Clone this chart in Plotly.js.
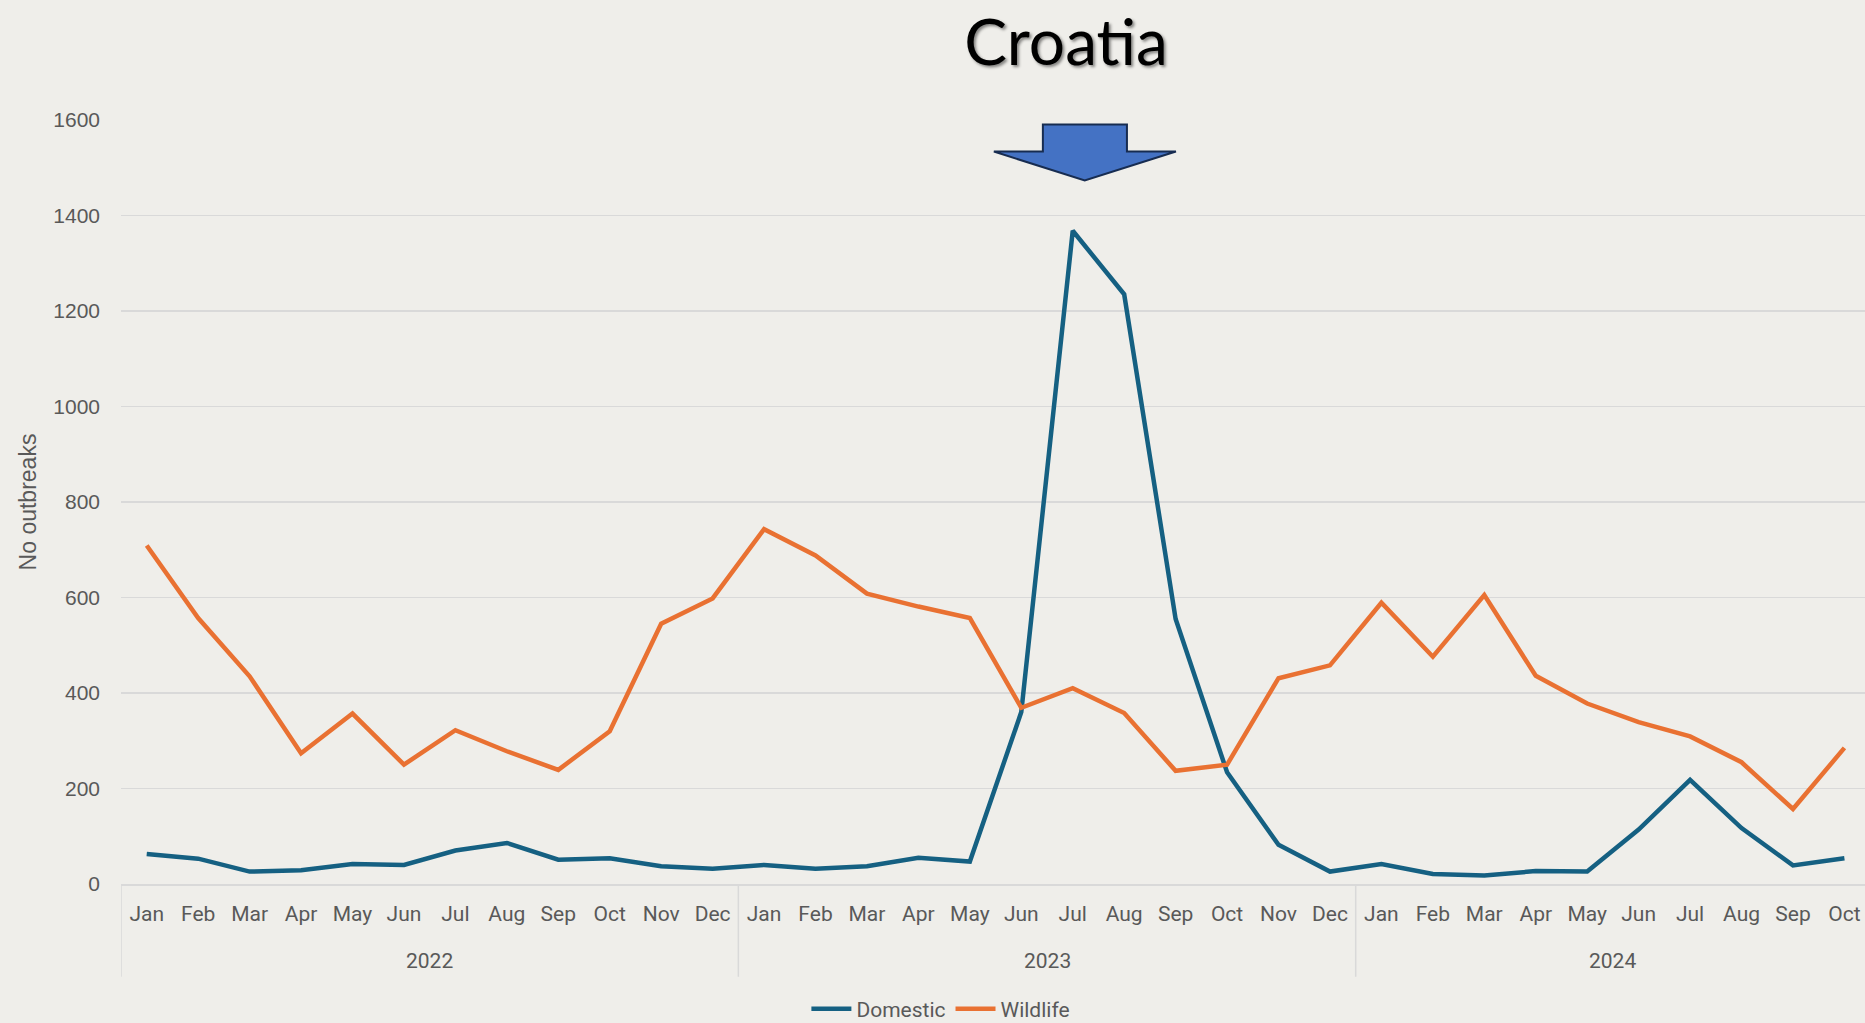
<!DOCTYPE html>
<html>
<head>
<meta charset="utf-8">
<script src="https://cdn.plot.ly/plotly-3.0.1.min.js"></script>
<style>
html,body{margin:0;padding:0;background:#EFEEEA;}
#chart{width:1865px;height:1023px;}
</style>
</head>
<body>
<div id="chart"></div>
<script>
const years = ["2022","2023","2024"];
const months = ["Jan","Feb","Mar","Apr","May","Jun","Jul","Aug","Sep","Oct","Nov","Dec"];
const monthsPerYear = [12, 12, 10];
const domestic = [63,53,26,29,42,40,70,86,51,54,37,32,
                  40,32,37,55,47,360,1368,1235,555,234,82,26,
                  42,21,18,27,26,114,218,117,39,54];
const wildlife = [709,557,435,274,357,250,322,278,239,320,545,598,
                  743,688,608,581,557,369,410,358,237,250,431,458,
                  589,476,605,436,378,339,309,255,157,285];
const yTicks = [0,200,400,600,800,1000,1200,1400,1600];

// month index positions and labels
const xIdx = [], xMonth = [];
const yearCenters = [], dividers = [];
let k = 0;
years.forEach((y,i)=>{
  dividers.push(k - 0.5);
  yearCenters.push(k + (monthsPerYear[i]-1)/2);
  for(let m=0;m<monthsPerYear[i];m++){ xIdx.push(k); xMonth.push(months[m]); k++; }
});

const gray = "#595959";
const narrow = "Roboto, Liberation Sans, sans-serif";
const sans = "Liberation Sans, Arial, sans-serif";

const traces = [
  {x:xIdx, y:domestic, name:"Domestic", type:"scatter", mode:"lines",
   line:{color:"#156082", width:4.5}},
  {x:xIdx, y:wildlife, name:"Wildlife", type:"scatter", mode:"lines",
   line:{color:"#E97132", width:4.5}}
];

const annotations = years.map((y,i)=>({
  text:y, x:yearCenters[i], xref:"x", y:-0.1004, yref:"paper",
  xanchor:"center", yanchor:"middle", showarrow:false,
  font:{family:narrow, size:21, color:gray}
}));

const shapes = dividers.map(d=>({
  type:"line", xref:"x", yref:"paper", x0:d, x1:d, y0:0, y1:-0.1214,
  line:{color:"#D9D9D9", width:1.5}
}));
shapes.push({type:"path", xref:"paper", yref:"paper",
  path:"M 0.5286 0.9941 L 0.5768 0.9941 L 0.5768 0.9587 L 0.6049 0.9587 L 0.5526 0.9208 L 0.5005 0.9587 L 0.5286 0.9587 Z",
  fillcolor:"#4472C4", line:{color:"#172C51", width:2}});

const layout = {
  width:1865, height:1023,
  paper_bgcolor:"#EFEEEA", plot_bgcolor:"#EFEEEA",
  margin:{l:121, r:0, t:120, b:139},
  showlegend:true,
  title:{text:"Croatia", x:0.5716, xref:"container", xanchor:"center",
         y:0.958, yref:"container", yanchor:"middle",
         font:{family:"Lato, Noto Sans, sans-serif", size:64, color:"#000000",
               shadow:"2px 2px 3px rgba(0,0,0,0.45)"}},
  xaxis:{type:"linear", range:[-0.5, 33.4], showgrid:false, zeroline:false,
         tickvals:xIdx, ticktext:xMonth, automargin:false,
         showline:true, linecolor:"#D9D9D9", linewidth:2,
         ticks:"", tickfont:{family:narrow, size:21, color:gray}, ticklabelstandoff:10},
  yaxis:{range:[0,1600], tickvals:yTicks, ticktext:yTicks.map(String), automargin:false,
         showgrid:true, gridcolor:"#D9D9D9", gridwidth:1.5, zeroline:false,
         showline:false, ticks:"", ticklabelstandoff:20,
         tickfont:{family:sans, size:21, color:gray},
         title:{text:"No outbreaks", standoff:10, font:{family:sans, size:23, color:gray}}},
  legend:{orientation:"h", x:0.5045, xref:"container", xanchor:"center",
          y:0.0137, yref:"container", yanchor:"middle",
          font:{family:narrow, size:21, color:gray}, bgcolor:"rgba(0,0,0,0)",
          itemwidth:40, tracegroupgap:0},
  annotations:annotations,
  shapes:shapes
};

Plotly.newPlot("chart", traces, layout, {displayModeBar:false, staticPlot:true});
</script>
</body>
</html>
